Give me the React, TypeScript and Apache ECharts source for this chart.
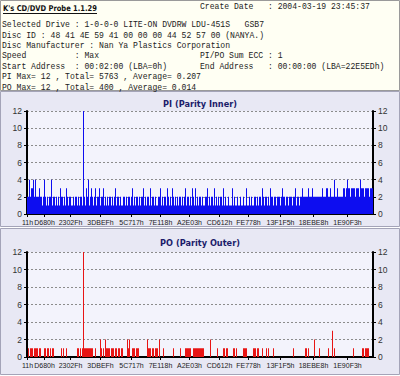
import React, { useEffect, useRef } from "react";
import * as echarts from "echarts";

const appTitle = "K's CD/DVD Probe 1.1.29";
const createDate = "Create Date   : 2004-03-19 23:45:37";
const infoLeft = [
  "Selected Drive : 1-0-0-0 LITE-ON DVDRW LDU-451S   GSB7",
  "Disc ID : 48 41 4E 59 41 00 00 00 44 52 57 00 (NANYA.)",
  "Disc Manufacturer : Nan Ya Plastics Corporation",
  "Speed          : Max",
  "Start Address  : 00:02:00 (LBA=0h)",
  "PI Max= 12 , Total= 5763 , Average= 0.207",
  "PO Max= 12 , Total= 400 , Average= 0.014",
];
const infoRight = [
  { row: 3, text: "PI/PO Sum ECC : 1" },
  { row: 4, text: "End Address   : 00:00:00 (LBA=22E5EDh)" },
];
const piTitle = "PI (Parity Inner)";
const poTitle = "PO (Parity Outer)";

const xTickLabels = ["11h", "D680h", "2302Fh", "3DBEFh", "5C717h", "7E118h", "A2E03h", "CD612h", "FE778h", "13F1F5h", "18EBE8h", "1E90F3h"];
const xTickIndex = [0, 17, 43, 73, 104, 133, 162, 192, 221, 253, 286, 320];

const yMin = 0;
const yMax = 12;
const yStep = 2;

const piValues = [
  2, 2, 4, 2, 3, 3, 4, 2, 4, 2,
  2, 2, 3, 2, 2, 1, 2, 4, 2, 1,
  2, 1, 2, 2, 4, 1, 2, 2, 1, 2,
  1, 2, 1, 3, 2, 2, 1, 2, 1, 3,
  2, 1, 2, 2, 1, 1, 2, 1, 2, 2,
  1, 2, 1, 2, 2, 1, 12, 2, 1, 3,
  2, 4, 1, 2, 3, 2, 1, 2, 3, 1,
  2, 2, 3, 1, 2, 2, 3, 1, 2, 1,
  2, 1, 2, 2, 1, 2, 1, 2, 3, 1,
  2, 2, 1, 2, 1, 1, 2, 2, 1, 2,
  1, 2, 2, 1, 2, 3, 1, 2, 1, 2,
  2, 1, 2, 1, 2, 2, 3, 1, 2, 1,
  2, 2, 1, 3, 1, 2, 2, 1, 2, 1,
  1, 2, 2, 3, 1, 2, 1, 2, 2, 1,
  3, 2, 1, 2, 1, 3, 2, 1, 2, 1,
  2, 1, 2, 2, 1, 2, 1, 2, 3, 1,
  2, 2, 1, 2, 1, 3, 2, 1, 3, 1,
  2, 1, 2, 2, 1, 2, 1, 1, 2, 2,
  3, 1, 2, 1, 2, 2, 1, 3, 1, 2,
  1, 2, 1, 2, 2, 1, 3, 1, 2, 1,
  1, 2, 1, 1, 1, 3, 1, 2, 1, 1,
  2, 1, 1, 2, 1, 1, 2, 1, 1, 3,
  1, 1, 2, 1, 2, 1, 1, 2, 2, 1,
  2, 1, 2, 2, 1, 3, 2, 1, 2, 2,
  1, 2, 1, 3, 2, 2, 1, 2, 2, 1,
  2, 2, 2, 1, 2, 3, 2, 2, 1, 2,
  2, 1, 2, 2, 2, 1, 2, 2, 3, 1,
  2, 2, 1, 2, 2, 3, 2, 2, 2, 2,
  2, 3, 2, 2, 2, 3, 2, 2, 2, 2,
  2, 2, 2, 2, 2, 3, 2, 2, 2, 3,
  3, 2, 2, 3, 2, 2, 2, 4, 2, 2,
  3, 2, 2, 2, 2, 2, 3, 3, 2, 3,
  4, 3, 3, 2, 3, 3, 3, 3, 2, 3,
  3, 3, 2, 4, 3, 3, 3, 2, 3, 3,
  3, 3, 2, 3, 3, 3,
];

const poValues = [
  0, 1, 0, 1, 1, 1, 0, 1, 1, 1,
  1, 0, 1, 1, 0, 0, 0, 1, 1, 0,
  1, 1, 0, 1, 0, 1, 1, 0, 0, 0,
  0, 0, 0, 0, 1, 0, 1, 0, 0, 1,
  0, 0, 0, 0, 0, 0, 0, 0, 0, 0,
  1, 1, 0, 1, 0, 1, 12, 1, 1, 1,
  1, 1, 1, 1, 1, 1, 0, 0, 1, 0,
  0, 0, 0, 2, 1, 0, 1, 0, 2, 1,
  1, 1, 1, 0, 1, 1, 1, 0, 1, 1,
  0, 1, 1, 0, 1, 1, 0, 0, 0, 0,
  2, 1, 2, 0, 0, 1, 1, 1, 0, 1,
  1, 1, 0, 0, 0, 0, 0, 0, 0, 0,
  2, 1, 1, 1, 0, 1, 1, 0, 1, 1,
  1, 0, 2, 0, 0, 0, 1, 0, 0, 0,
  0, 0, 0, 0, 0, 0, 1, 0, 0, 0,
  0, 0, 0, 1, 0, 0, 0, 0, 1, 1,
  1, 1, 1, 1, 0, 0, 1, 1, 1, 1,
  1, 1, 1, 1, 1, 1, 1, 0, 0, 0,
  0, 0, 0, 2, 0, 0, 0, 0, 0, 0,
  1, 0, 0, 0, 0, 0, 1, 1, 0, 1,
  1, 0, 0, 0, 0, 0, 1, 1, 0, 1,
  0, 0, 0, 0, 0, 0, 1, 1, 1, 1,
  0, 0, 0, 0, 0, 0, 1, 1, 1, 0,
  1, 1, 0, 0, 0, 1, 0, 0, 0, 1,
  0, 1, 0, 0, 0, 0, 1, 0, 0, 0,
  0, 0, 0, 0, 0, 0, 0, 0, 0, 0,
  0, 0, 0, 0, 0, 0, 1, 0, 0, 0,
  0, 0, 0, 0, 0, 0, 0, 0, 1, 1,
  0, 1, 0, 0, 0, 0, 0, 2, 0, 0,
  0, 0, 1, 0, 0, 0, 0, 0, 0, 0,
  0, 1, 0, 0, 0, 3, 0, 1, 0, 0,
  0, 0, 0, 0, 0, 0, 0, 0, 0, 0,
  0, 0, 0, 0, 0, 0, 1, 0, 0, 0,
  0, 0, 0, 0, 0, 1, 1, 0, 1, 1,
  1, 1, 0, 0, 0, 0,
];

const monoFont = "'Liberation Mono', 'DejaVu Sans Mono', monospace";
const sansFont = "'Liberation Sans', Arial, sans-serif";
const boldFont = "'DejaVu Sans', Verdana, sans-serif";

export default function App() {
  const ref = useRef<HTMLDivElement>(null);

  useEffect(() => {
    if (!ref.current) return;
    const chart = echarts.init(ref.current, null, { renderer: "svg" });
    const positions = piValues.map((_, i) => String(i));
    const tickMap: Record<number, string> = {};
    xTickIndex.forEach((idx, k) => {
      tickMap[idx] = xTickLabels[k];
    });
    const showTick = (i: number) => tickMap[i] !== undefined;

    const plotLeft = 27;
    const plotWidth = 346;
    const panels = [
      { top: 111, height: 103, title: piTitle, titleY: 104 },
      { top: 252, height: 105, title: poTitle, titleY: 243 },
    ];

    const xAxes = panels.map((_, g) => ({
      type: "category",
      gridIndex: g,
      data: positions,
      boundaryGap: true,
      axisLine: { show: true, onZero: true, lineStyle: { color: "#000", width: 2 } },
      axisTick: {
        show: true,
        alignWithLabel: true,
        interval: (i: number) => showTick(i),
        length: 3,
        lineStyle: { color: "#000", width: 1 },
      },
      axisLabel: {
        interval: (i: number) => showTick(i),
        formatter: (_v: string, i: number) => tickMap[i] ?? "",
        fontSize: 7,
        fontFamily: sansFont,
        color: "#222",
        margin: 5,
        hideOverlap: false,
      },
      splitLine: { show: false },
    }));

    const yAxes: any[] = [];
    panels.forEach((_, g) => {
      ["left", "right"].forEach((pos) => {
        yAxes.push({
          type: "value",
          gridIndex: g,
          position: pos,
          min: yMin,
          max: yMax,
          interval: yStep,
          axisLine: { show: true, lineStyle: { color: "#000", width: 2 } },
          axisTick: { show: true, length: 3, lineStyle: { color: "#000", width: 1 } },
          axisLabel: { fontSize: 8.5, fontFamily: sansFont, color: "#333", margin: 5 },
          splitLine: pos === "left"
            ? { show: true, lineStyle: { color: "#8c8c8c", width: 1, type: [2, 2] } }
            : { show: false },
        });
      });
    });

    const graphics: any[] = [
      {
        type: "rect",
        z: -5,
        shape: { x: 0.5, y: 0.5, width: 399, height: 90 },
        style: { fill: "#fffff3", stroke: "#9a9a9a", lineWidth: 1 },
      },
      {
        type: "rect",
        z: -5,
        shape: { x: 0.5, y: 91.5, width: 399, height: 135 },
        style: { fill: "#e8e8f4", stroke: "#a4a4b8", lineWidth: 1 },
      },
      {
        type: "rect",
        z: -5,
        shape: { x: 0.5, y: 228.5, width: 399, height: 146 },
        style: { fill: "#e8e8f4", stroke: "#a4a4b8", lineWidth: 1 },
      },
      {
        type: "text",
        z: 10,
        x: 3,
        y: 8,
        scaleX: 0.845,
        style: {
          text: appTitle,
          fontFamily: boldFont,
          fontWeight: "bold",
          fontSize: 8,
          fill: "#111",
          verticalAlign: "middle",
          align: "left",
        },
      },
      {
        type: "line",
        z: 10,
        shape: { x1: 3, y1: 13.5, x2: 97, y2: 13.5 },
        style: { stroke: "#111", lineWidth: 1 },
      },
      {
        type: "text",
        z: 10,
        x: 200,
        y: 7,
        scaleX: 0.9,
        style: {
          text: createDate,
          fontFamily: monoFont,
          fontSize: 9,
          fill: "#222",
          verticalAlign: "middle",
          align: "left",
        },
      },
    ];
    infoLeft.forEach((t, k) => {
      graphics.push({
        type: "text",
        z: 10,
        x: 2,
        y: 25 + k * 10.4,
        scaleX: 0.9,
        style: { text: t, fontFamily: monoFont, fontSize: 9, fill: "#222", verticalAlign: "middle", align: "left" },
      });
    });
    infoRight.forEach((r) => {
      graphics.push({
        type: "text",
        z: 10,
        x: 200,
        y: 25 + r.row * 10.4,
        scaleX: 0.9,
        style: { text: r.text, fontFamily: monoFont, fontSize: 9, fill: "#222", verticalAlign: "middle", align: "left" },
      });
    });
    panels.forEach((p) => {
      graphics.push({
        type: "text",
        z: 10,
        x: 200,
        y: p.titleY,
        style: {
          text: p.title,
          fontFamily: boldFont,
          fontWeight: "bold",
          fontSize: 8.2,
          fill: "#1c1c6a",
          verticalAlign: "middle",
          align: "center",
        },
      });
    });

    chart.setOption({
      animation: false,
      graphic: graphics,
      grid: panels.map((p) => ({
        left: plotLeft,
        width: plotWidth,
        top: p.top,
        height: p.height,
        show: true,
        backgroundColor: "#f3f3fc",
        borderWidth: 0,
        containLabel: false,
      })),
      xAxis: xAxes,
      yAxis: yAxes,
      series: [
        {
          type: "bar",
          name: "PI",
          xAxisIndex: 0,
          yAxisIndex: 0,
          data: piValues,
          barWidth: 1,
          barGap: "0%",
          itemStyle: { color: "#0d0df0" },
        },
        {
          type: "bar",
          name: "PO",
          xAxisIndex: 1,
          yAxisIndex: 2,
          data: poValues,
          barWidth: 1,
          barGap: "0%",
          itemStyle: { color: "#e81414" },
        },
      ],
    });
    return () => chart.dispose();
  }, []);

  return (
    <div
      ref={ref}
      style={{ position: "absolute", left: 0, top: 0, width: 400, height: 376 }}
    />
  );
}
